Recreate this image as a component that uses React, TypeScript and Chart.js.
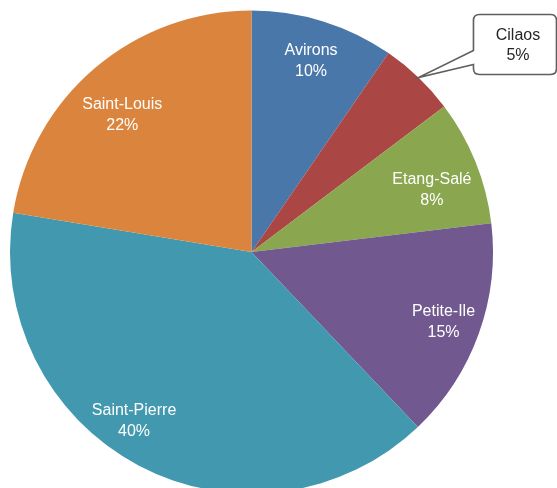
import React, { useEffect, useRef } from "react";
import { Chart, registerables } from "chart.js";

Chart.register(...registerables);

const categories = ["Avirons", "Cilaos", "Etang-Salé", "Petite-Ile", "Saint-Pierre", "Saint-Louis"];
const shares = [9.6, 5.1, 8.4, 14.8, 39.7, 22.4];
const colors = ["#4A77AA", "#AA4744", "#8AA64F", "#71588F", "#4298AF", "#DB843D"];

const labelRadial = [0.83, 0.8, 0.79, 0.845, 0.85, 0.78];
const labelAngleShift = [0, 0, 3, 0, 7, -3];
const calloutIndex = 1;

const FONT = '16px "Liberation Sans", Arial, sans-serif';

const labelPlugin = {
  id: "sliceLabels",
  afterDatasetsDraw(chart: any) {
    const ctx = chart.ctx;
    const meta = chart.getDatasetMeta(0);
    const data = chart.data.datasets[0].data as number[];
    const total = data.reduce((a, b) => a + b, 0);
    ctx.save();
    ctx.font = FONT;
    ctx.textAlign = "center";
    ctx.textBaseline = "middle";
    meta.data.forEach((arc: any, i: number) => {
      const { x, y, startAngle, endAngle, outerRadius } = arc.getProps(
        ["x", "y", "startAngle", "endAngle", "outerRadius"],
        true
      );
      const mid = (startAngle + endAngle) / 2;
      const name = chart.data.labels[i];
      const pct = Math.round((data[i] / total) * 100) + "%";
      if (i === calloutIndex) {
        const tx = x + Math.cos(mid) * outerRadius;
        const ty = y + Math.sin(mid) * outerRadius;
        const bx = tx + 55;
        const by = ty - 63;
        const bw = 83;
        const bh = 60;
        const r = 6;
        ctx.beginPath();
        ctx.moveTo(bx + r, by);
        ctx.lineTo(bx + bw - r, by);
        ctx.quadraticCurveTo(bx + bw, by, bx + bw, by + r);
        ctx.lineTo(bx + bw, by + bh - r);
        ctx.quadraticCurveTo(bx + bw, by + bh, bx + bw - r, by + bh);
        ctx.lineTo(bx + r, by + bh);
        ctx.quadraticCurveTo(bx, by + bh, bx, by + bh - r);
        ctx.lineTo(bx, by + bh - 10);
        ctx.lineTo(tx, ty);
        ctx.lineTo(bx, by + 36);
        ctx.lineTo(bx, by + r);
        ctx.quadraticCurveTo(bx, by, bx + r, by);
        ctx.closePath();
        ctx.fillStyle = "#FFFFFF";
        ctx.fill();
        ctx.lineWidth = 1.6;
        ctx.strokeStyle = "#5F5F5F";
        ctx.stroke();
        ctx.fillStyle = "#262626";
        ctx.fillText(name, bx + bw / 2 + 3, by + 21);
        ctx.fillText(pct, bx + bw / 2 + 3, by + 41);
        return;
      }
      const a = mid + (labelAngleShift[i] * Math.PI) / 180;
      const rr = outerRadius * labelRadial[i];
      const cx = x + Math.cos(a) * rr;
      const cy = y + Math.sin(a) * rr;
      ctx.fillStyle = "#FFFFFF";
      ctx.fillText(name, cx, cy - 10);
      ctx.fillText(pct, cx, cy + 11);
    });
    ctx.restore();
  },
};

export default function App() {
  const ref = useRef<HTMLCanvasElement | null>(null);
  useEffect(() => {
    document.body.style.margin = "0";
    document.body.style.overflow = "hidden";
    const chart = new Chart(ref.current as HTMLCanvasElement, {
      type: "pie",
      data: {
        labels: categories,
        datasets: [
          {
            data: shares,
            backgroundColor: colors,
            borderWidth: 0,
          },
        ],
      },
      options: {
        responsive: false,
        animation: false,
        layout: { padding: { left: 10, right: 64, top: 10, bottom: 10 } },
        plugins: {
          legend: { display: false },
          tooltip: { enabled: false },
        },
      },
      plugins: [labelPlugin],
    });
    return () => chart.destroy();
  }, []);
  return (
    <div style={{ position: "absolute", left: 0, top: 0, width: 557, height: 488, overflow: "hidden", background: "#fff" }}>
      <canvas ref={ref} width={557} height={504} style={{ display: "block" }} />
    </div>
  );
}
